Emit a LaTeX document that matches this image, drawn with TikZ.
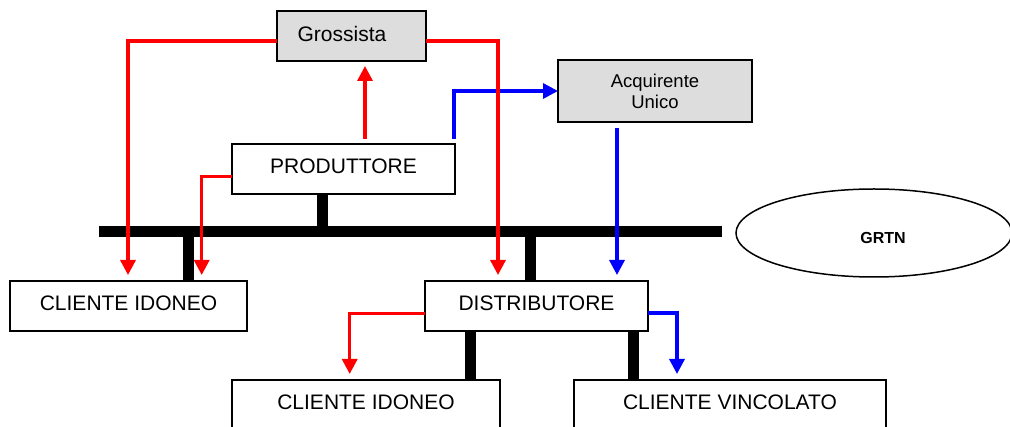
\documentclass[tikz,border=0pt]{standalone}
\usepackage{fontspec}
\setmainfont{Liberation Sans}
\usetikzlibrary{arrows.meta,shapes.geometric,calc}
\definecolor{boxgray}{RGB}{221,221,221}
\begin{document}
\begin{tikzpicture}[x=1pt,y=-1pt,
  box/.style={draw=black,line width=1.6pt,minimum height=50pt,inner sep=0pt,outer sep=0pt,
    text depth=5pt,font=\fontsize{21}{25}\selectfont},
  graybox/.style={box,fill=boxgray},
  bar/.style={line width=11pt,draw=black},
  redarr/.style={draw=red,line width=3.3pt,-{Triangle[length=15pt,width=15pt]}},
  bluearr/.style={draw=blue,line width=3.3pt,-{Triangle[length=15pt,width=15pt]}},
  grtnstyle/.style={ellipse,draw=black,line width=1.5pt,minimum width=276pt,minimum height=88pt,inner sep=0pt}]
\useasboundingbox (0,0) rectangle (1010,427);

% nodes
\node[graybox,minimum width=149pt] (gross) at (351.5,36) {Grossista\kern19pt};
\node[graybox,minimum width=194pt,minimum height=62pt,align=center,text depth=0pt,
      font=\fontsize{18.5}{21}\selectfont] (acq) at (655,91) {Acquirente\\Unico};
\node[box,minimum width=223pt] (prod) at (343.5,169) {PRODUTTORE};
\node[box,minimum width=237pt] (ci1) at (128.5,306) {CLIENTE IDONEO};
\node[box,minimum width=223pt] (dist) at (536.5,306) {DISTRIBUTORE};
\node[box,minimum width=268pt] (ci2) at (366,405) {CLIENTE IDONEO};
\node[box,minimum width=312pt] (cv) at (730,405) {CLIENTE VINCOLATO};
\node[grtnstyle] (grtn) at (874,233) {};
\node[font=\fontsize{16}{19}\selectfont\bfseries] (grtnlabel) at ($(grtn.center)+(9,5)$) {GRTN};

% bus
\coordinate (busL) at (99,231.5);
\coordinate (busR) at (722,231.5);
\draw[bar] (busL) -- (busR);

% stems
\coordinate (ps) at ($(prod.south)+(-21.5,0)$);
\draw[bar] (ps) -- (ps |- busL);
\coordinate (c1s) at ($(ci1.north)+(59.5,0)$);
\draw[bar] (c1s |- busL) -- (c1s);
\coordinate (ds) at ($(dist.north)+(-6.5,0)$);
\draw[bar] (ds |- busL) -- (ds);
\coordinate (c2s) at ($(ci2.north)+(104,0)$);
\draw[bar] (c2s |- dist.south) -- (c2s);
\coordinate (cvs) at ($(cv.north)+(-97,0)$);
\draw[bar] (cvs |- dist.south) -- (cvs);

% blue connectors
\coordinate (pa) at ($(prod.north)+(110.5,0)$);
\draw[bluearr,shorten <=5pt] (pa) |- (acq.west);
\coordinate (as) at ($(acq.south)+(-38,0)$);
\draw[bluearr,shorten <=6pt,shorten >=6pt] (as) -- (as |- dist.north);
\coordinate (de) at ($(dist.east)+(0,7)$);
\coordinate (cvn) at ($(cv.north)+(-53,0)$);
\draw[bluearr,shorten >=6pt] (de) -| (cvn);

% red connectors
\coordinate (pg) at ($(prod.north)+(21.5,0)$);
\draw[redarr,shorten <=5pt,shorten >=5pt] (pg) -- (pg |- gross.south);
\coordinate (gw) at ($(gross.west)+(0,5)$);
\coordinate (c1a) at ($(ci1.north)+(-0.5,0)$);
\draw[redarr,shorten >=6pt] (gw) -| (c1a);
\coordinate (ge) at ($(gross.east)+(0,5)$);
\coordinate (d1) at ($(dist.north)+(-38.5,0)$);
\draw[redarr,shorten >=6pt] (ge) -| (d1);
\coordinate (pw) at ($(prod.west)+(0,7.7)$);
\coordinate (c1b) at ($(ci1.north)+(73.2,0)$);
\draw[redarr,shorten >=6pt] (pw) -| (c1b);
\coordinate (dw) at ($(dist.west)+(0,7.7)$);
\coordinate (c2a) at ($(ci2.north)+(-16.3,0)$);
\draw[redarr,shorten >=6pt] (dw) -| (c2a);
\end{tikzpicture}
\end{document}
